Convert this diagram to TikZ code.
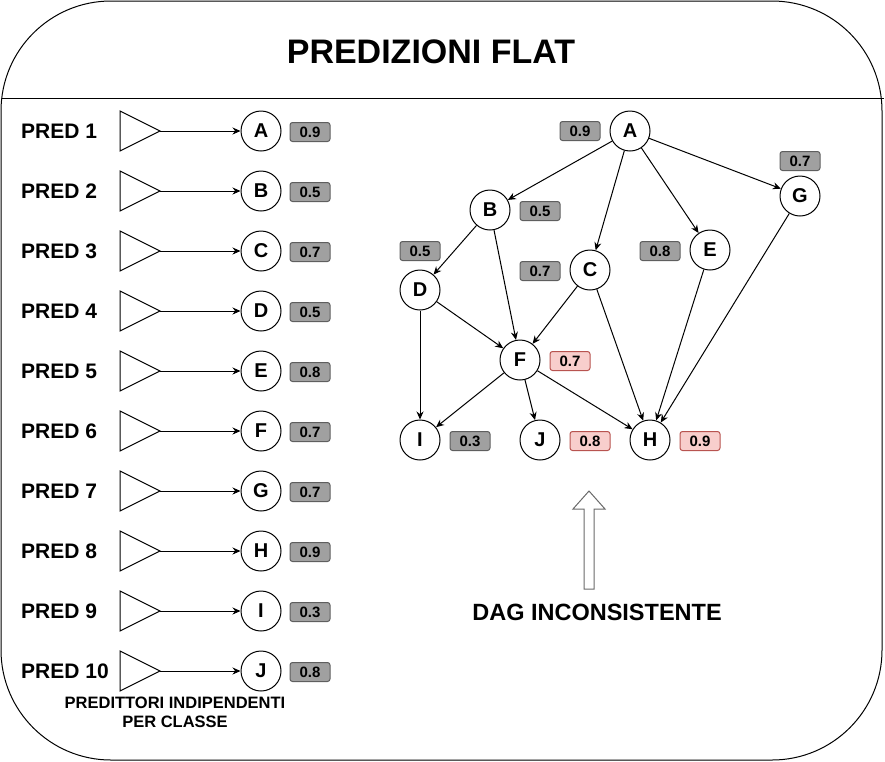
\documentclass[tikz,border=0pt]{standalone}
\usepackage{fontspec}
\setmainfont{Liberation Sans}
\usetikzlibrary{arrows.meta,positioning,calc}
\definecolor{scorefill}{HTML}{A0A0A0}
\definecolor{scoreline}{HTML}{5F5F5F}
\definecolor{redfill}{HTML}{F8CECC}
\definecolor{redline}{HTML}{B85450}
\definecolor{hollowline}{HTML}{6A6A6A}

\tikzset{
  cls/.style={draw, circle, line width=1pt, minimum size=40pt, inner sep=0pt,
    font=\fontsize{20}{24}\selectfont\bfseries},
  score/.style={draw=scoreline, fill=scorefill, line width=1pt, rounded corners=2.5pt,
    minimum width=40pt, minimum height=19pt, inner sep=0pt,
    font=\fontsize{15}{18}\selectfont\bfseries},
  badscore/.style={score, draw=redline, fill=redfill},
  predlabel/.style={anchor=west, inner sep=0pt, font=\fontsize{21}{25}\selectfont\bfseries},
  link/.style={line width=1pt, -{Stealth[length=8pt,width=7pt]}},
}

\begin{document}
\begin{tikzpicture}[x=1pt, y=-1pt]
    \useasboundingbox (0,0) rectangle (885,761);

    % frame and title
    \draw[line width=1pt, rounded corners=110pt] (1,1) rectangle (882,760);
    \draw[line width=1pt] (2,98) -- (884,98);
    \node[font=\fontsize{34}{40}\selectfont\bfseries] (title) at (431,52) {PREDIZIONI FLAT};

    % one independent predictor per class
    \foreach \i/\c/\v in {1/A/0.9, 2/B/0.5, 3/C/0.7, 4/D/0.5, 5/E/0.8,
                          6/F/0.7, 7/G/0.7, 8/H/0.9, 9/I/0.3, 10/J/0.8} {
        \pgfmathsetmacro\y{131+60*(\i-1)}
        \node[predlabel] (pred\i) at (21,\y) {PRED \i};
        \draw[line width=1pt] (120,\y-20) -- (160,\y) -- (120,\y+20) -- cycle;
        \coordinate (tip\i) at (160,\y);
        \node[cls] (flat\i) at (261,\y) {\c};
        \node[score] (flatscore\i) at (310,\y+1) {\v};
        \draw[link] (tip\i) -- (flat\i);
    }
    \node[align=center, font=\fontsize{16.5}{19}\selectfont\bfseries] (caption) at (175,712)
        {PREDITTORI INDIPENDENTI\\PER CLASSE};

    % the DAG
    \node[cls] (A) at (630,131) {A};
    \node[cls] (B) at (490,210) {B};
    \node[cls] (G) at (800,196) {G};
    \node[cls] (E) at (710,250) {E};
    \node[cls] (C) at (590,270) {C};
    \node[cls] (D) at (420,290) {D};
    \node[cls] (F) at (520,360) {F};
    \node[cls] (I) at (420,440) {I};
    \node[cls] (J) at (540,440) {J};
    \node[cls] (H) at (650,440) {H};

    % scores, red where the DAG is violated
    \node[score] (sA) at (580,131) {0.9};
    \node[score] (sG) at (800,161) {0.7};
    \node[score] (sB) at (540,211) {0.5};
    \node[score] (sD) at (420,251) {0.5};
    \node[score] (sC) at (540,271) {0.7};
    \node[score] (sE) at (660,251) {0.8};
    \node[badscore] (sF) at (570,361) {0.7};
    \node[score] (sI) at (470,441) {0.3};
    \node[badscore] (sJ) at (590,441) {0.8};
    \node[badscore] (sH) at (700,441) {0.9};

    \foreach \a/\b in {A/B, A/C, A/E, A/G, B/D, B/F, C/F, C/H,
                       D/F, D/I, E/H, G/H, F/I, F/J, F/H} {
        \draw[link] (\a) -- (\b);
    }

    % hollow arrow and caption
    \draw[hollowline, line width=1pt] (589,491) -- (573,509) -- (584,509) -- (584,589)
        -- (594,589) -- (594,509) -- (605,509) -- cycle;
    \node[font=\fontsize{23.5}{28}\selectfont\bfseries] (dag) at (597,612) {DAG INCONSISTENTE};
\end{tikzpicture}
\end{document}
